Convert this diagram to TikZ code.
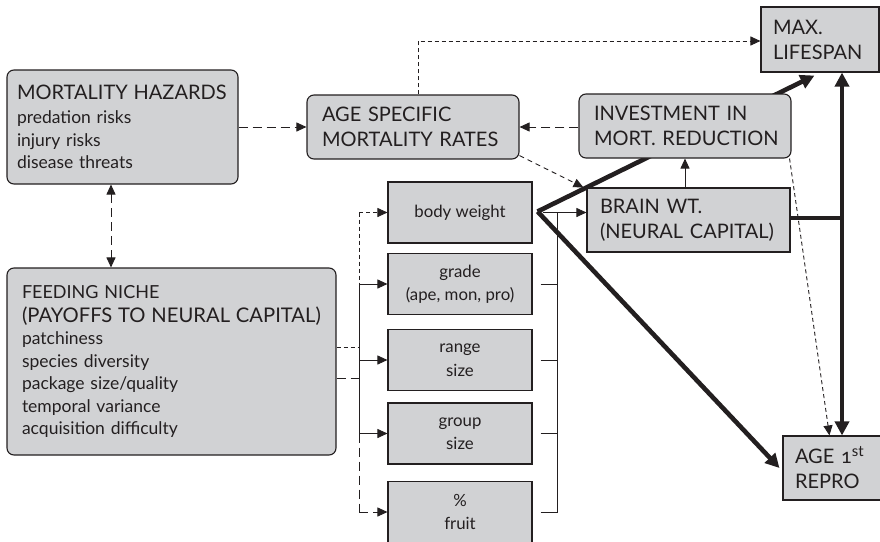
\documentclass[tikz,border=0pt]{standalone}
\usepackage{fontspec}
\setmainfont{Lato}
\usetikzlibrary{arrows.meta,calc}
\pgfdeclarelayer{bg}
\pgfsetlayers{bg,main}
\definecolor{boxfill}{HTML}{D1D2D4}
\definecolor{ink}{HTML}{231F20}
\begin{document}
\begin{tikzpicture}[x=1pt,y=-1pt,
  every node/.style={text=ink},
  gbox/.style={draw=ink, fill=boxfill, line width=1.1pt, align=left, inner ysep=0pt, font=\fontsize{20}{25}\selectfont},
  rbox/.style={gbox, rounded corners=7pt},
  sbox/.style={draw=ink, fill=boxfill, line width=1.1pt, align=center, inner sep=0pt,
    minimum width=144pt, minimum height=61pt, font=\fontsize{16.8}{23.5}\selectfont},
  ln/.style={draw=ink, line width=0.9pt},
  thk/.style={draw=ink, line width=4.6pt},
  tip/.style={-{Triangle[length=10pt,width=9pt]}},
  bigtip/.style={-{Triangle[length=14pt,width=14pt]}},
  ldash/.style={dash pattern=on 9pt off 5pt},
  mdash/.style={dash pattern=on 5pt off 4pt},
  sdash/.style={dash pattern=on 4pt off 3pt}
]
\useasboundingbox (0,0) rectangle (880,541);

% boxes
\node[rbox, text width=211pt, inner xsep=10pt, minimum height=114pt, font=\fontsize{17.5}{22.5}\selectfont]
  (MH) at (122.5,127) {\mbox{\fontsize{20}{22}\selectfont MORTALITY HAZARDS}\\[1.5pt] predation risks\\ injury risks\\ disease threats};
\node[rbox, text width=182pt, inner xsep=15pt, minimum height=64pt] (ASMR) at (413,127) {\mbox{AGE SPECIFIC}\\ \mbox{MORTALITY RATES}};
\node[gbox, text width=94pt, inner xsep=12pt, minimum height=65pt] (ML) at (820,39.5) {MAX.\\ LIFESPAN};
\node[rbox, text width=182pt, inner xsep=15pt, minimum height=64pt] (INV) at (685,126) {\mbox{INVESTMENT IN}\\ \mbox{MORT. REDUCTION}};
\node[gbox, text width=177pt, inner xsep=13pt, minimum height=64pt] (BRAIN) at (688.5,220) {\mbox{BRAIN WT.}\\ \mbox{(NEURAL CAPITAL)}};
\node[gbox, text width=75pt, inner xsep=12pt, minimum height=64pt] (AR) at (832.5,468)
  {\mbox{AGE {\addfontfeatures{Numbers=OldStyle}1}\raisebox{7pt}{\fontsize{15}{15}\selectfont st}}\\ REPRO};
\node[rbox, text width=299pt, inner xsep=15pt, minimum height=187pt, font=\fontsize{17.5}{22.5}\selectfont]
  (FN) at (171.5,361.5) {\mbox{\fontsize{18}{20}\selectfont FEEDING NICHE}\\[1pt]
  \mbox{\fontsize{20.2}{20}\selectfont (PAYOFFS TO NEURAL CAPITAL)}\\ patchiness\\ species diversity\\ package size/quality\\ temporal variance\\ acquisition difficulty};

\node[sbox] (body)  at (460,212.5) {body weight};
\node[sbox] (grade) at (460,284) {grade\\ (ape, mon, pro)};
\node[sbox] (range) at (460,360) {range\\ size};
\node[sbox] (group) at (460,433.5) {group\\ size};
\node[sbox] (fruit) at (460,512) {\%\\ fruit};

% helper coordinates
\coordinate (apex) at ($(body.east)+(5,-1)$);
\coordinate (rb) at ($(body.east)+(25,0)$);
\coordinate (lb) at ($(body.west)+(-28,0)$);
\coordinate (spine) at ($(ML.south)+(22,0)$);

\begin{pgfonlayer}{bg}
  % thick connectors
  \draw[thk, bigtip] (apex) -- ($(ML.south west)+(54,3)$);
  \draw[thk, bigtip] (apex) -- ($(AR.west)+(-3,0)$);
  \draw[thk, {Triangle[length=14pt,width=14pt]}-{Triangle[length=14pt,width=14pt]}] (spine) -- (spine |- AR.north);
  \draw[thk] (BRAIN.east |- 0,218) -- (spine |- 0,218);
\end{pgfonlayer}

% dashed top connectors
\draw[ln, ldash, tip] (MH.east) -- (ASMR.west);
\draw[ln, ldash, tip] (INV.west |- ASMR.east) -- (ASMR.east);
\draw[ln, sdash, tip] ($(ASMR.north)+(5,0)$) |- (ML.west |- 0,41);
\draw[ln, mdash, tip] ($(ASMR.south east)+(0,-4)$) -- ($(BRAIN.north west)+(-3,0)$);
\draw[ln, tip] (INV.south |- BRAIN.north) -- (INV.south);
\draw[ln, sdash, tip] ($(INV.south east)+(-2,0)$) -- ($(AR.north west)+(47,0)$);
\draw[ln, ldash, {Triangle[length=10pt,width=9pt]}-{Triangle[length=10pt,width=9pt]}] ($(MH.south)+(-11.5,0)$) -- ($(FN.north)+(-60.5,0)$);

% right bracket
\draw[ln, tip] ($(body.east)+(10,0)$) -- (body.east -| BRAIN.west);
\draw[ln] (rb) -- (fruit.east -| rb);
\foreach \b in {grade,range,group,fruit} \draw[ln] ($(\b.east)+(8,0)$) -- (\b.east -| rb);

% left bracket
\draw[ln, sdash] (lb) -- (grade.west -| lb);
\draw[ln] (grade.west -| lb) -- (group.west -| lb);
\draw[ln, ldash] (group.west -| lb) -- (fruit.west -| lb);
\draw[ln, sdash, tip] (lb) -- (body.west);
\foreach \b in {grade,range,group} \draw[ln, tip] (\b.west -| lb) -- (\b.west);
\draw[ln, ldash, tip] (fruit.west -| lb) -- (fruit.west);
\draw[ln, sdash] ($(FN.east)+(0,-14.5)$) coordinate (fa) -- (fa -| lb);
\draw[ln, ldash] ($(FN.east)+(0,16.5)$) coordinate (fb) -- (fb -| lb);
\end{tikzpicture}
\end{document}
